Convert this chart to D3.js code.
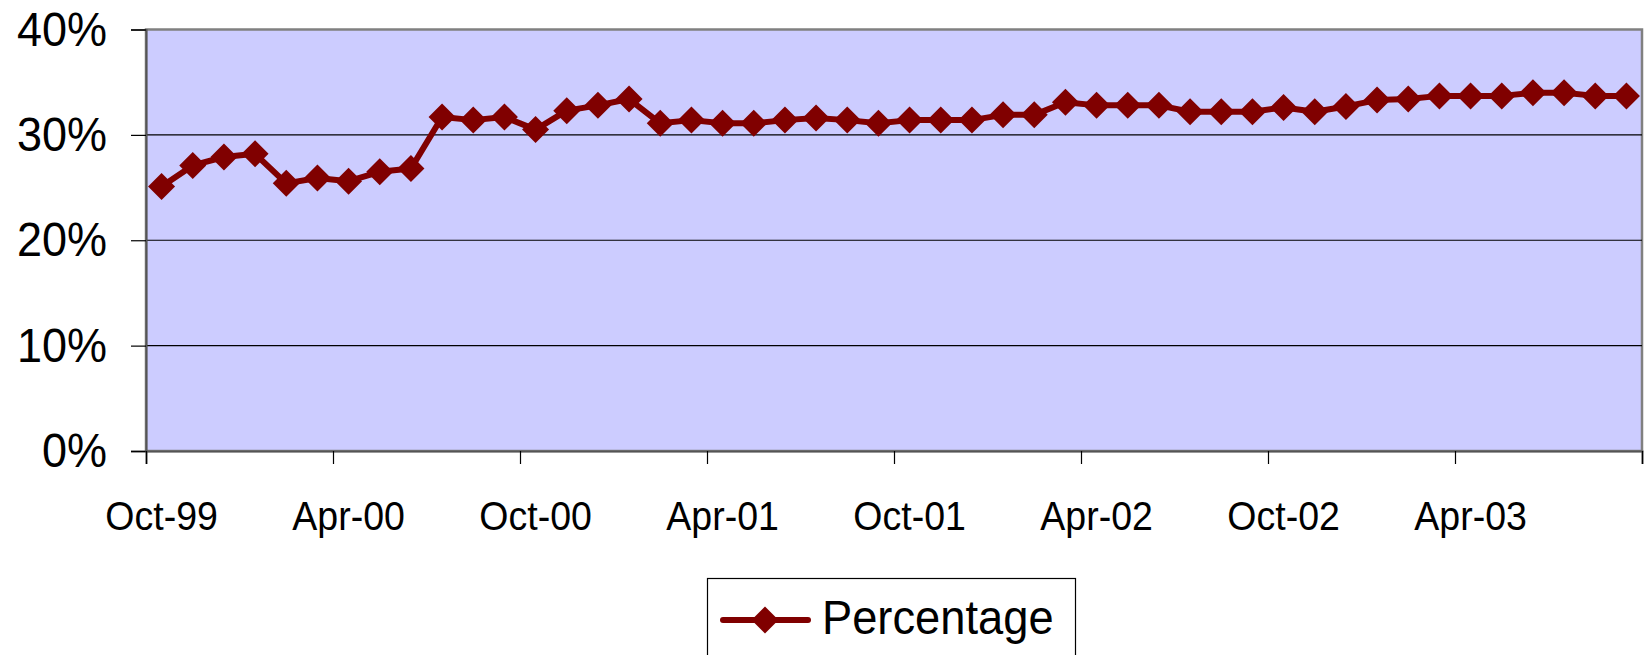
<!DOCTYPE html>
<html>
<head>
  <meta charset="utf-8">
  <title>Percentage</title>
  <script src="https://d3js.org/d3.v7.min.js"></script>
  <style>
    body {
      margin: 0;
      background: #fff;
    }
    text {
      font-family: "Liberation Sans", Arial, sans-serif;
      fill: #000;
    }
  </style>
</head>
<body>
  <div id="chart"></div>

  <script>
    // Categories (monthly, Oct-99 .. Sep-03)
    var months = [
      "Oct-99", "Nov-99", "Dec-99", "Jan-00", "Feb-00", "Mar-00",
      "Apr-00", "May-00", "Jun-00", "Jul-00", "Aug-00", "Sep-00",
      "Oct-00", "Nov-00", "Dec-00", "Jan-01", "Feb-01", "Mar-01",
      "Apr-01", "May-01", "Jun-01", "Jul-01", "Aug-01", "Sep-01",
      "Oct-01", "Nov-01", "Dec-01", "Jan-02", "Feb-02", "Mar-02",
      "Apr-02", "May-02", "Jun-02", "Jul-02", "Aug-02", "Sep-02",
      "Oct-02", "Nov-02", "Dec-02", "Jan-03", "Feb-03", "Mar-03",
      "Apr-03", "May-03", "Jun-03", "Jul-03", "Aug-03", "Sep-03"
    ];

    // Percentage series
    var percentage = [
      25.1, 27.1, 27.9, 28.2, 25.4, 25.9,
      25.6, 26.5, 26.8, 31.7, 31.4, 31.7,
      30.5, 32.3, 32.8, 33.4, 31.1, 31.4,
      31.1, 31.1, 31.4, 31.6, 31.4, 31.1,
      31.4, 31.4, 31.4, 31.9, 31.9, 33.1,
      32.8, 32.8, 32.8, 32.2, 32.2, 32.2,
      32.6, 32.2, 32.7, 33.3, 33.4, 33.7,
      33.7, 33.7, 34.0, 34.0, 33.7, 33.7
    ];

    var yTicks = [0, 10, 20, 30, 40];
    var xLabels = ["Oct-99", "Apr-00", "Oct-00", "Apr-01", "Oct-01", "Apr-02", "Oct-02", "Apr-03"];
    var xTickIdx = [0, 6, 12, 18, 24, 30, 36, 42, 48];

    var width = 1644, height = 655;
    var plot = { left: 146, right: 1642, top: 29.5, bottom: 451 };
    var stretch = "scale(1,1.08)";

    var svg = d3.select("#chart")
      .append("svg")
      .attr("width", width)
      .attr("height", height);

    var x = d3.scaleBand()
      .domain(months)
      .range([plot.left, plot.right]);

    var xIdx = d3.scaleLinear()
      .domain([0, months.length])
      .range([plot.left, plot.right]);

    var y = d3.scaleLinear()
      .domain([0, 40])
      .range([plot.bottom, plot.top]);

    // plot background
    svg.append("rect")
      .attr("x", plot.left)
      .attr("y", plot.top)
      .attr("width", plot.right - plot.left)
      .attr("height", plot.bottom - plot.top)
      .attr("fill", "#ccccff")
      .attr("stroke", "#808080")
      .attr("stroke-width", 2.5);

    // gridlines
    svg.append("g")
      .selectAll("line")
      .data(yTicks.filter(function(d) { return d > 0 && d < 40; }))
      .enter()
      .append("line")
      .attr("x1", plot.left)
      .attr("x2", plot.right)
      .attr("y1", function(d) { return y(d); })
      .attr("y2", function(d) { return y(d); })
      .attr("stroke", "#000")
      .attr("stroke-width", 1.2);

    // y axis
    var yAxis = svg.append("g")
      .attr("transform", "translate(" + plot.left + ",0)")
      .call(d3.axisLeft(y)
        .tickValues(yTicks)
        .tickSize(15)
        .tickPadding(24)
        .tickFormat(function(d) { return d + "%"; }));
    yAxis.select(".domain").attr("stroke", "#555").attr("stroke-width", 2);
    yAxis.selectAll(".tick line").attr("stroke", "#000").attr("stroke-width", 1.2);
    yAxis.selectAll(".tick text")
      .attr("font-size", 45)
      .attr("font-family", "Liberation Sans, Arial, sans-serif")
      .attr("fill", "#000")
      .attr("transform", stretch);

    // x axis tick marks at category boundaries
    var xTickAxis = svg.append("g")
      .attr("transform", "translate(0," + plot.bottom + ")")
      .call(d3.axisBottom(xIdx)
        .tickValues(xTickIdx)
        .tickSize(13)
        .tickFormat(""));
    xTickAxis.select(".domain").attr("stroke", "#555").attr("stroke-width", 2);
    xTickAxis.selectAll(".tick line").attr("stroke", "#000").attr("stroke-width", 1.2);

    // x axis labels at category centres
    var xLabelAxis = svg.append("g")
      .attr("transform", "translate(0," + plot.bottom + ")")
      .call(d3.axisBottom(x)
        .tickValues(xLabels)
        .tickSize(0));
    xLabelAxis.select(".domain").remove();
    xLabelAxis.selectAll(".tick text")
      .attr("font-size", 37.5)
      .attr("font-family", "Liberation Sans, Arial, sans-serif")
      .attr("fill", "#000")
      .attr("dy", 0)
      .attr("y", (530 - plot.bottom) / 1.08)
      .attr("transform", stretch);

    // series line
    var cx = function(d, i) { return x(months[i]) + x.bandwidth() / 2; };
    var line = d3.line()
      .x(cx)
      .y(function(d) { return y(d); });

    svg.append("path")
      .datum(percentage)
      .attr("d", line)
      .attr("fill", "none")
      .attr("stroke", "#800000")
      .attr("stroke-width", 6)
      .attr("stroke-linejoin", "round");

    var diamond = "M0,-13.5L13.5,0L0,13.5L-13.5,0Z";
    svg.append("g")
      .selectAll("path")
      .data(percentage)
      .enter()
      .append("path")
      .attr("d", diamond)
      .attr("transform", function(d, i) { return "translate(" + cx(d, i) + "," + y(d) + ")"; })
      .attr("fill", "#800000");

    // legend
    var legend = svg.append("g");
    legend.append("rect")
      .attr("x", 707.5)
      .attr("y", 578.5)
      .attr("width", 368)
      .attr("height", 100)
      .attr("fill", "#fff")
      .attr("stroke", "#000")
      .attr("stroke-width", 1.2);
    legend.append("line")
      .attr("x1", 723)
      .attr("x2", 808)
      .attr("y1", 620)
      .attr("y2", 620)
      .attr("stroke", "#800000")
      .attr("stroke-width", 6)
      .attr("stroke-linecap", "round");
    legend.append("path")
      .attr("d", diamond)
      .attr("transform", "translate(765,620)")
      .attr("fill", "#800000");
    legend.append("text")
      .attr("x", 822)
      .attr("y", 634 / 1.08)
      .attr("font-size", 45.3)
      .attr("transform", stretch)
      .text("Percentage");
  </script>
</body>
</html>
